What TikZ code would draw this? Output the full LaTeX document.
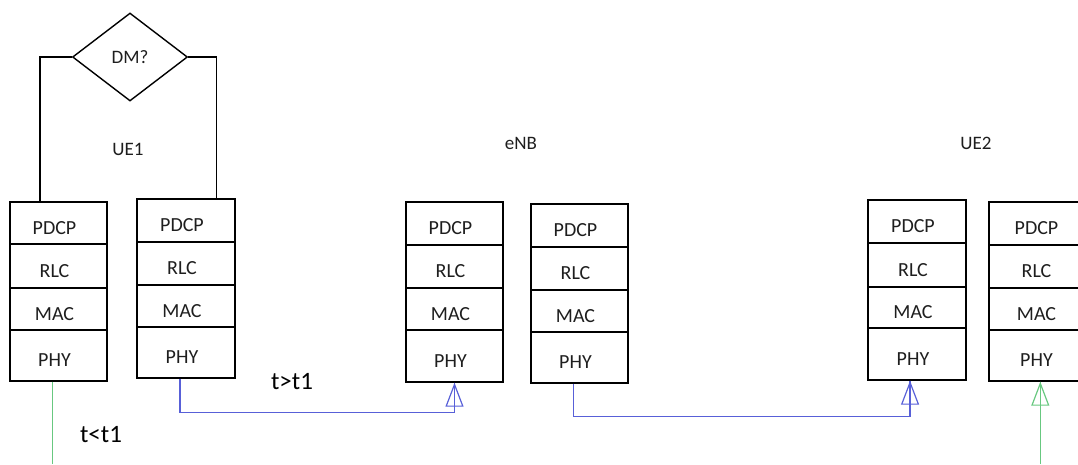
\documentclass[tikz,border=0pt]{standalone}
\usepackage{fontspec}
\setmainfont{Carlito}
\usetikzlibrary{shapes.geometric,fit,arrows.meta,calc}
\definecolor{linkblue}{RGB}{88,96,216}
\definecolor{linkgreen}{RGB}{104,200,128}
\definecolor{textdark}{RGB}{30,30,30}

\tikzset{
  cell/.style={draw, line width=1.4pt, inner sep=0pt},
  lbl/.style={font=\fontsize{20}{24}\selectfont, text=textdark, xshift=-4pt, yshift=-5pt},
  title/.style={font=\fontsize{19}{23}\selectfont, text=textdark},
  tlabel/.style={font=\fontsize{25}{30}\selectfont},
  wire/.style={line width=1.4pt},
  link/.style={line width=1.3pt},
  opentip/.style={-{Triangle[open, length=24pt, width=18pt, line width=1.2pt]}},
}

% one protocol stack: name, left, right, top, cut1, cut2, cut3, bottom
\newcommand\protostack[8]{%
  \node[cell, fit={(#2,#4) (#3,#5)}, label={[lbl]center:PDCP}] (#1-pdcp) {};
  \node[cell, fit={(#2,#5) (#3,#6)}, label={[lbl]center:RLC}]  (#1-rlc) {};
  \node[cell, fit={(#2,#6) (#3,#7)}, label={[lbl]center:MAC}]  (#1-mac) {};
  \node[cell, fit={(#2,#7) (#3,#8)}, label={[lbl]center:PHY}]  (#1-phy) {};
}

\begin{document}
\begin{tikzpicture}[x=1pt, y=-1pt]
  \clip (0,0) rectangle (1078,464);
  \coordinate (floor) at (0,464);

  % stacks
  \protostack{ue1a}{10}{107}{202}{244}{288}{330}{381}
  \protostack{ue1b}{137}{235}{199}{242}{285}{327}{378}
  \protostack{enba}{406}{503}{202}{245}{288}{330}{382}
  \protostack{enbb}{531}{628}{204}{247}{290}{332}{383}
  \protostack{ue2a}{868}{966}{200}{243}{287}{328}{380}
  \protostack{ue2b}{989}{1092}{202}{245}{288}{330}{381}

  % decision and titles
  \node[diamond, draw, wire, minimum width=115pt, minimum height=88pt,
        inner sep=0pt, title] (dm) at (130,57) {DM?};
  \node[title] (ue1) at (128,149) {UE1};
  \node[title] (enb) at (521,143) {eNB};
  \node[title] (ue2) at (976,143) {UE2};

  \draw[wire] (dm.west) -| ($(ue1a-pdcp.north west)!0.31!(ue1a-pdcp.north east)$);
  \draw[wire] (dm.east) -| ($(ue1b-pdcp.north west)!0.806!(ue1b-pdcp.north east)$);

  % radio links
  \coordinate (s1) at ($(ue1a-phy.south west)!0.44!(ue1a-phy.south east)$);
  \draw[link, linkgreen] (s1) -- (s1 |- floor);

  \coordinate (s2) at ($(ue1b-phy.south west)!0.44!(ue1b-phy.south east)$);
  \draw[link, linkblue, opentip] (s2) -- ++(0,34) -| (enba-phy.south);
  \draw[link, linkblue] (enba-phy.south) -- ++(0,24);

  \coordinate (s3) at ($(enbb-phy.south west)!0.44!(enbb-phy.south east)$);
  \coordinate (e3) at ($(ue2a-phy.south west)!0.43!(ue2a-phy.south east)$);
  \draw[link, linkblue, opentip] (s3) -- ++(0,33) -| (e3);
  \draw[link, linkblue] (e3) -- ++(0,24);

  \coordinate (e4) at ($(ue2b-phy.south west)+(52,0)$);
  \draw[link, linkgreen, opentip] (e4 |- floor) -- (e4);
  \draw[link, linkgreen] (e4) -- ++(0,24);

  \node[tlabel] (tgt) at (292,382) {t>t1};
  \node[tlabel] (tlt) at (101,435) {t<t1};
\end{tikzpicture}
\end{document}
